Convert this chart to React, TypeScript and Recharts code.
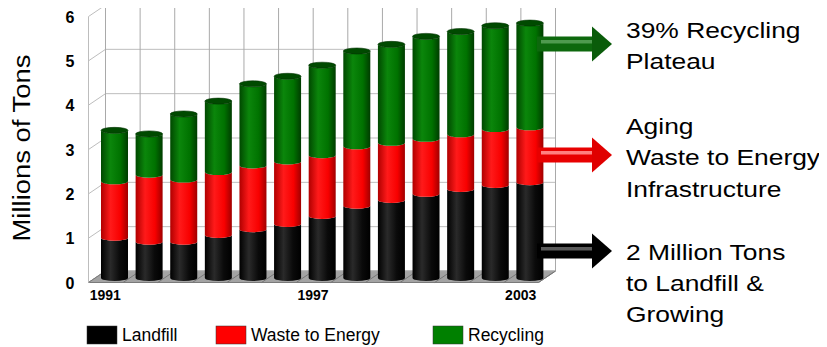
import { ComposedChart, Bar, XAxis, YAxis, CartesianGrid } from "recharts";

const years = [1991, 1992, 1993, 1994, 1995, 1996, 1997, 1998, 1999, 2000, 2001, 2002, 2003];
const landfill = [0.91, 0.82, 0.82, 0.97, 1.1, 1.22, 1.4, 1.63, 1.76, 1.9, 2.01, 2.1, 2.16];
const wasteToEnergy = [1.27, 1.51, 1.4, 1.42, 1.44, 1.41, 1.37, 1.34, 1.29, 1.24, 1.23, 1.26, 1.24];
const recycling = [1.15, 0.92, 1.48, 1.6, 1.84, 1.92, 2.03, 2.15, 2.22, 2.31, 2.32, 2.33, 2.35];
const yTicks = [0, 1, 2, 3, 4, 5, 6];

const series = [
  { key: "landfill", name: "Landfill", color: "#000000", grad: "cyl-black" },
  { key: "wte", name: "Waste to Energy", color: "#ff0000", grad: "cyl-red" },
  { key: "recycling", name: "Recycling", color: "#008000", grad: "cyl-green" },
];

const data = years.map((year, i) => ({
  year,
  landfill: landfill[i],
  wte: wasteToEnergy[i],
  recycling: recycling[i],
}));

const FONT = "'Liberation Sans', Arial, sans-serif";
// depth of the fake 3d box, relative to the plane the bars sit in
const FRONT = { dx: -8.5, dy: 4.5 };
const BACK = { dx: 8.5, dy: -7 };

function Cylinder(props: any) {
  const { x, y, width: w, height: h, grad, top } = props;
  if (!h || h <= 0) return null;
  const rx = w / 2;
  const ry = 3;
  const d = `M${x},${y} A${rx},${ry} 0 0 0 ${x + w},${y} L${x + w},${y + h} A${rx},${ry} 0 0 1 ${x},${y + h} Z`;
  return (
    <g>
      <path d={d} fill={`url(#${grad})`} />
      {top && <ellipse cx={x + rx} cy={y} rx={rx} ry={ry} fill="#004a00" stroke="#003300" strokeWidth={0.6} />}
    </g>
  );
}

function HLine(props: any) {
  const { x1, x2, y1, index } = props;
  const fl = { x: x1 + FRONT.dx, y: y1 + FRONT.dy };
  const bl = { x: x1 + BACK.dx, y: y1 + BACK.dy };
  const br = { x: x2 + BACK.dx, y: y1 + BACK.dy };
  const isFloor = index === 0 || Math.abs(y1 - 278) < 1;
  return (
    <g key={`h-${y1}`}>
      {isFloor && (
        <polygon
          points={`${fl.x},${fl.y} ${bl.x},${bl.y} ${br.x},${br.y} ${x2 + FRONT.dx},${y1 + FRONT.dy}`}
          fill="#a3a3a3"
          stroke="#7a7a7a"
          strokeWidth={1}
        />
      )}
      <polyline
        points={`${fl.x},${fl.y} ${bl.x},${bl.y} ${br.x},${br.y}`}
        fill="none"
        stroke="#bdbdbd"
        strokeWidth={1}
      />
    </g>
  );
}

function VLine(props: any) {
  const { x1, y1, y2, index } = props;
  const first = index === 0 || Math.abs(x1 - 97) < 1;
  return (
    <g key={`v-${x1}`}>
      <line x1={x1 + BACK.dx} y1={y1 + BACK.dy} x2={x1 + BACK.dx} y2={y2 + BACK.dy} stroke="#a9a9a9" strokeWidth={1} />
      <line x1={x1 + BACK.dx} y1={y2 + BACK.dy} x2={x1 + FRONT.dx} y2={y2 + FRONT.dy} stroke="#777" strokeWidth={1} />
      {first && (
        <line x1={x1 + FRONT.dx} y1={y1 + FRONT.dy} x2={x1 + FRONT.dx} y2={y2 + FRONT.dy} stroke="#bdbdbd" strokeWidth={1} />
      )}
    </g>
  );
}

function YTick(props: any) {
  const { y, payload } = props;
  return (
    <text x={70} y={y + 5} textAnchor="middle" dominantBaseline="central" fontFamily={FONT} fontWeight="bold" fontSize={16} fill="#000">
      {payload.value}
    </text>
  );
}

function XTick(props: any) {
  const { x, payload } = props;
  return (
    <text x={x - 9} y={300} textAnchor="middle" fontFamily={FONT} fontWeight="bold" fontSize={14} fill="#000">
      {payload.value}
    </text>
  );
}

function Arrow({ cy, body, light, head }: { cy: number; body: string; light: string; head: string }) {
  return (
    <g>
      <rect x={537} y={cy - 7.5} width={58} height={15} fill={body} />
      <rect x={541} y={cy - 4} width={52} height={3.5} fill={light} />
      <polygon points={`592,${cy - 17.5} 612,${cy} 592,${cy + 17.5}`} fill={head} />
    </g>
  );
}

const notes = [
  { y: 38, text: "39% Recycling" },
  { y: 69, text: "Plateau" },
  { y: 134, text: "Aging" },
  { y: 165, text: "Waste to Energy" },
  { y: 197, text: "Infrastructure" },
  { y: 260, text: "2 Million Tons" },
  { y: 291, text: "to Landfill &" },
  { y: 322, text: "Growing" },
];

const legendX = [87, 216, 433];

export default function App() {
  return (
    <div style={{ position: "relative", width: 827, height: 347, margin: "-8px 0 0 -8px", background: "#fff" }}>
      <svg width={0} height={0} style={{ position: "absolute" }}>
        <defs>
          <linearGradient id="cyl-black" x1="0" y1="0" x2="1" y2="0">
            <stop offset="0" stopColor="#000" />
            <stop offset="0.35" stopColor="#2a2a2a" />
            <stop offset="0.7" stopColor="#0a0a0a" />
            <stop offset="1" stopColor="#000" />
          </linearGradient>
          <linearGradient id="cyl-red" x1="0" y1="0" x2="1" y2="0">
            <stop offset="0" stopColor="#b00000" />
            <stop offset="0.35" stopColor="#ff1a1a" />
            <stop offset="0.72" stopColor="#f80000" />
            <stop offset="1" stopColor="#a00000" />
          </linearGradient>
          <linearGradient id="cyl-green" x1="0" y1="0" x2="1" y2="0">
            <stop offset="0" stopColor="#004800" />
            <stop offset="0.35" stopColor="#0b860b" />
            <stop offset="0.72" stopColor="#007200" />
            <stop offset="1" stopColor="#003c00" />
          </linearGradient>
        </defs>
      </svg>
      <ComposedChart
        width={827}
        height={347}
        data={data}
        margin={{ top: 12, right: 280, bottom: 47, left: 66 }}
        barSize={27}
      >
        <CartesianGrid
          horizontal={(p: any) => <HLine {...p} />}
          vertical={(p: any) => <VLine {...p} />}
          verticalCoordinatesGenerator={({ offset }: any) =>
            Array.from({ length: years.length + 1 }, (_, k) => offset.left + (k * offset.width) / years.length)
          }
        />
        <XAxis dataKey="year" interval={5} axisLine={false} tickLine={false} height={22} tick={<XTick />} />
        <YAxis domain={[0, 6]} ticks={yTicks} axisLine={false} tickLine={false} width={31} tick={<YTick />} />
        {series.map((s, i) => (
          <Bar
            key={s.key}
            dataKey={s.key}
            name={s.name}
            stackId="a"
            fill={s.color}
            isAnimationActive={false}
            shape={(p: any) => <Cylinder {...p} grad={s.grad} top={i === series.length - 1} />}
          />
        ))}
      </ComposedChart>
      <svg width={827} height={347} style={{ position: "absolute", left: 0, top: 0, pointerEvents: "none" }}>
        <text
          x={22}
          y={148}
          transform="rotate(-90 22 148)"
          textAnchor="middle"
          dominantBaseline="central"
          fontFamily={FONT}
          fontSize={23}
          textLength={187}
          lengthAdjust="spacingAndGlyphs"
          fill="#000"
        >
          Millions of Tons
        </text>
        <Arrow cy={44} body="#0d680d" light="#4f9a4f" head="#0a5c0a" />
        <Arrow cy={155} body="#e80000" light="#ff8080" head="#e00000" />
        <Arrow cy={251} body="#000" light="#5a5a5a" head="#000" />
        <g transform="translate(626 0) scale(1.2 1)">
          {notes.map((n) => (
            <text key={n.text} x={0} y={n.y} fontFamily={FONT} fontSize={22} fill="#000">
              {n.text}
            </text>
          ))}
        </g>
        {series.map((s, i) => (
          <g key={s.key}>
            <rect x={legendX[i]} y={326} width={30} height={18} fill={s.color} stroke="#333" strokeWidth={0.5} />
            <text x={legendX[i] + 35} y={341} fontFamily={FONT} fontSize={17.5} fill="#000">
              {s.name}
            </text>
          </g>
        ))}
      </svg>
    </div>
  );
}
